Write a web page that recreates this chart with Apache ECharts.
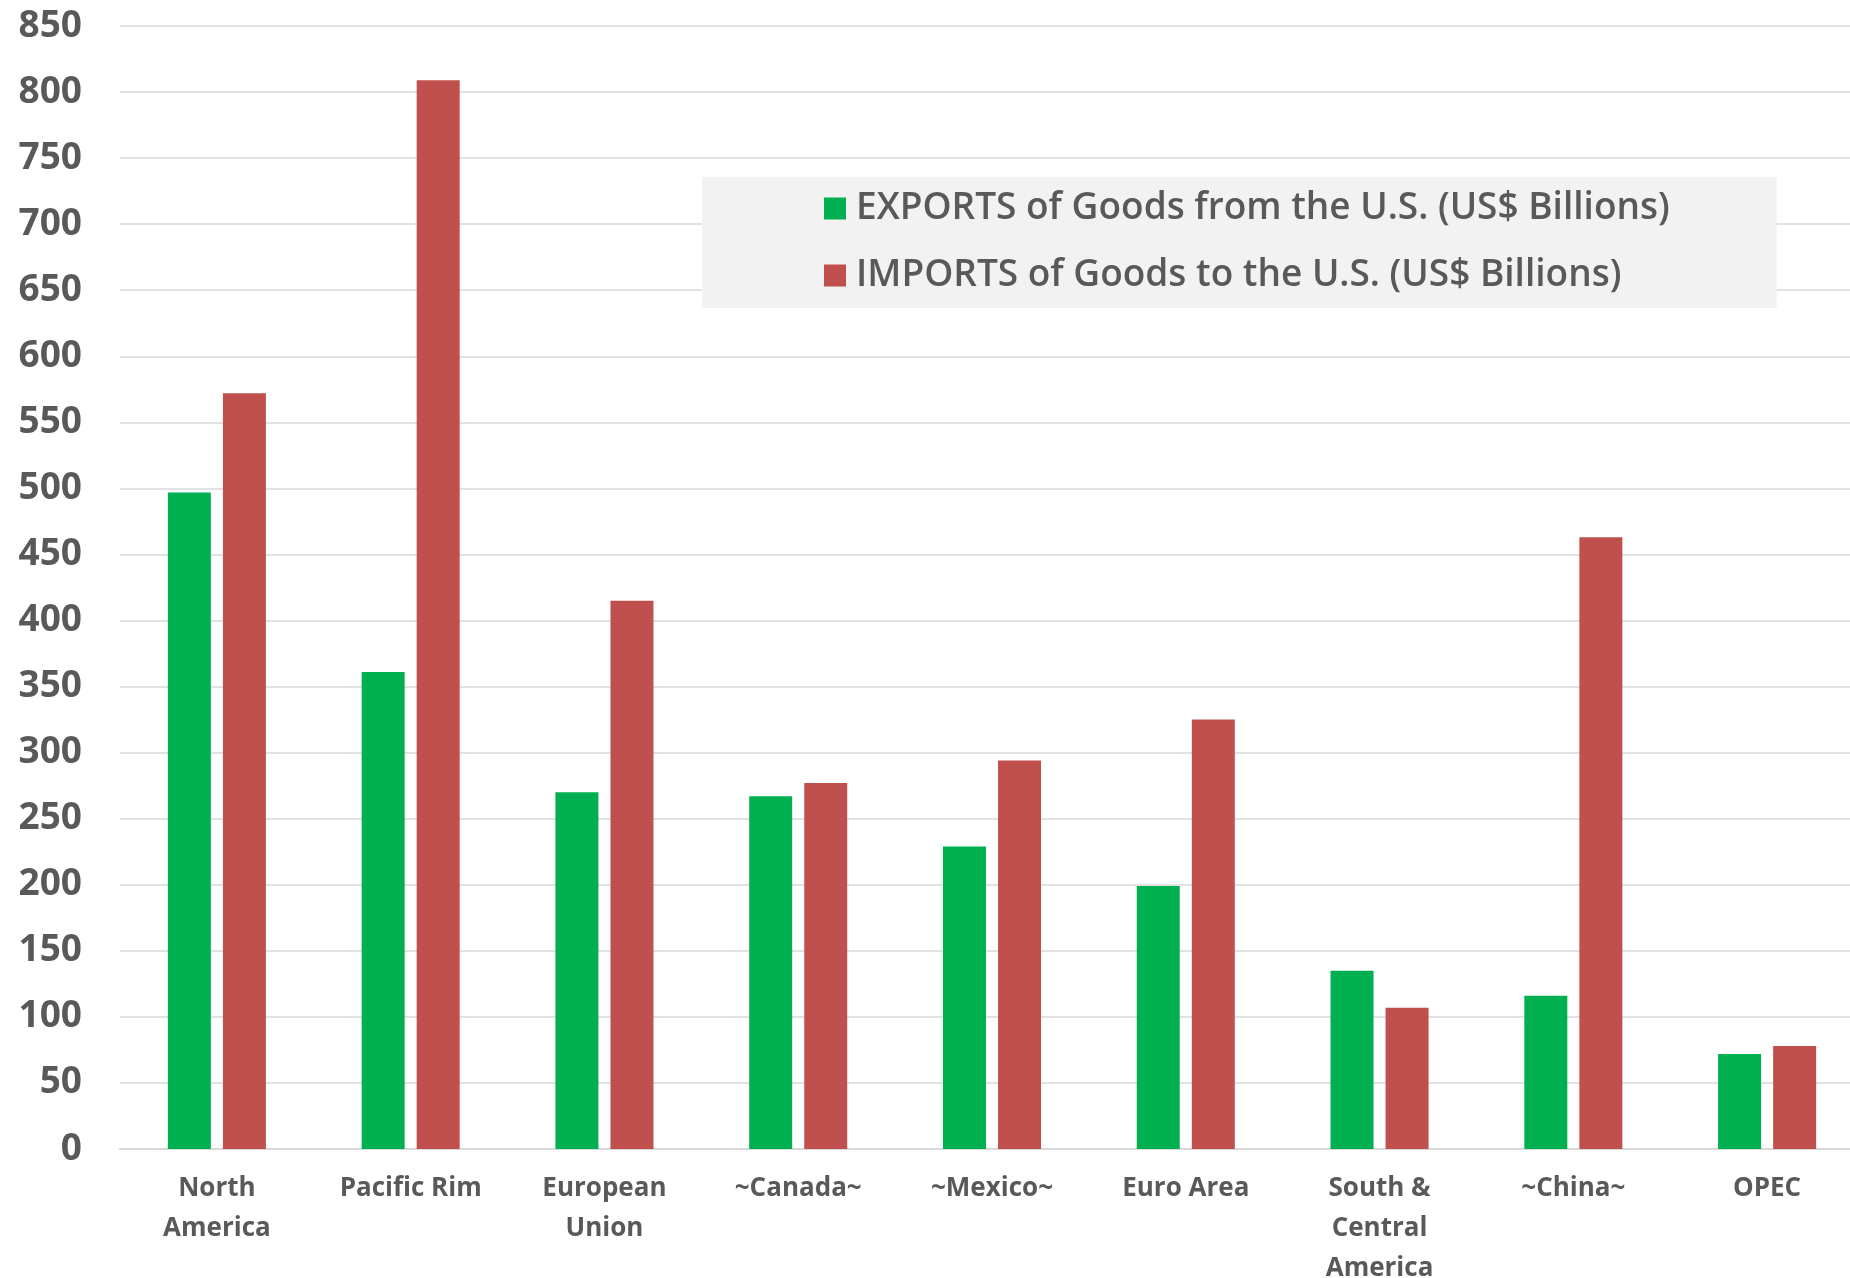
<!DOCTYPE html>
<html>
<head>
<meta charset="utf-8">
<script src="https://cdn.jsdelivr.net/npm/echarts@6/dist/echarts.min.js"></script>
<style>
html,body{margin:0;padding:0;background:#fff;}
#chart{width:1850px;height:1278px;}
</style>
</head>
<body>
<div id="chart"></div>
<script>
const categories = ['North\nAmerica', 'Pacific Rim', 'European\nUnion', '~Canada~', '~Mexico~', 'Euro Area', 'South &\nCentral\nAmerica', '~China~', 'OPEC'];
const exportsName = 'EXPORTS of Goods from the U.S. (US$ Billions)';
const importsName = 'IMPORTS of Goods to the U.S. (US$ Billions)';
const exportsValues = [497, 361, 270, 267, 229, 199, 135, 116, 72];
const importsValues = [572, 809, 415, 277, 294, 325, 107, 463, 78];
const yMin = 0, yMax = 850, yInterval = 50;

const chart = echarts.init(document.getElementById('chart'));
chart.setOption({
  animation: false,
  backgroundColor: '#ffffff',
  grid: { left: 120, right: -14, top: 26, bottom: 129, containLabel: false, outerBoundsMode: 'none' },
  legend: {
    orient: 'vertical',
    left: 702, top: 177,
    padding: [13, 107, 14, 122],
    backgroundColor: '#f2f2f2',
    itemWidth: 22, itemHeight: 22, itemGap: 30,
    icon: 'rect',
    textStyle: { fontFamily: 'Open Sans', fontWeight: 600, fontSize: 37, lineHeight: 36, color: '#595959', padding: [0, 0, 0, 5] },
    data: [exportsName, importsName]
  },
  xAxis: {
    type: 'category',
    data: categories,
    axisLine: { show: true, lineStyle: { color: '#d9d9d9', width: 2 } },
    axisTick: { show: false },
    axisLabel: {
      interval: 0, margin: 20,
      fontFamily: 'Open Sans', fontWeight: 'bold', fontSize: 26, color: '#595959',
      lineHeight: 40
    }
  },
  yAxis: {
    type: 'value',
    min: yMin, max: yMax, interval: yInterval,
    axisLine: { show: false },
    axisTick: { show: false },
    splitLine: { lineStyle: { color: '#d9d9d9', width: 1.5 } },
    axisLabel: {
      margin: 38,
      fontFamily: 'Open Sans', fontWeight: 'bold', fontSize: 37, color: '#595959'
    }
  },
  series: [
    { name: exportsName, type: 'bar', data: exportsValues, barWidth: 43, barGap: '28%', itemStyle: { color: '#00B050' } },
    { name: importsName, type: 'bar', data: importsValues, barWidth: 43, barGap: '28%', itemStyle: { color: '#C0504D' } }
  ]
});
</script>
</body>
</html>
